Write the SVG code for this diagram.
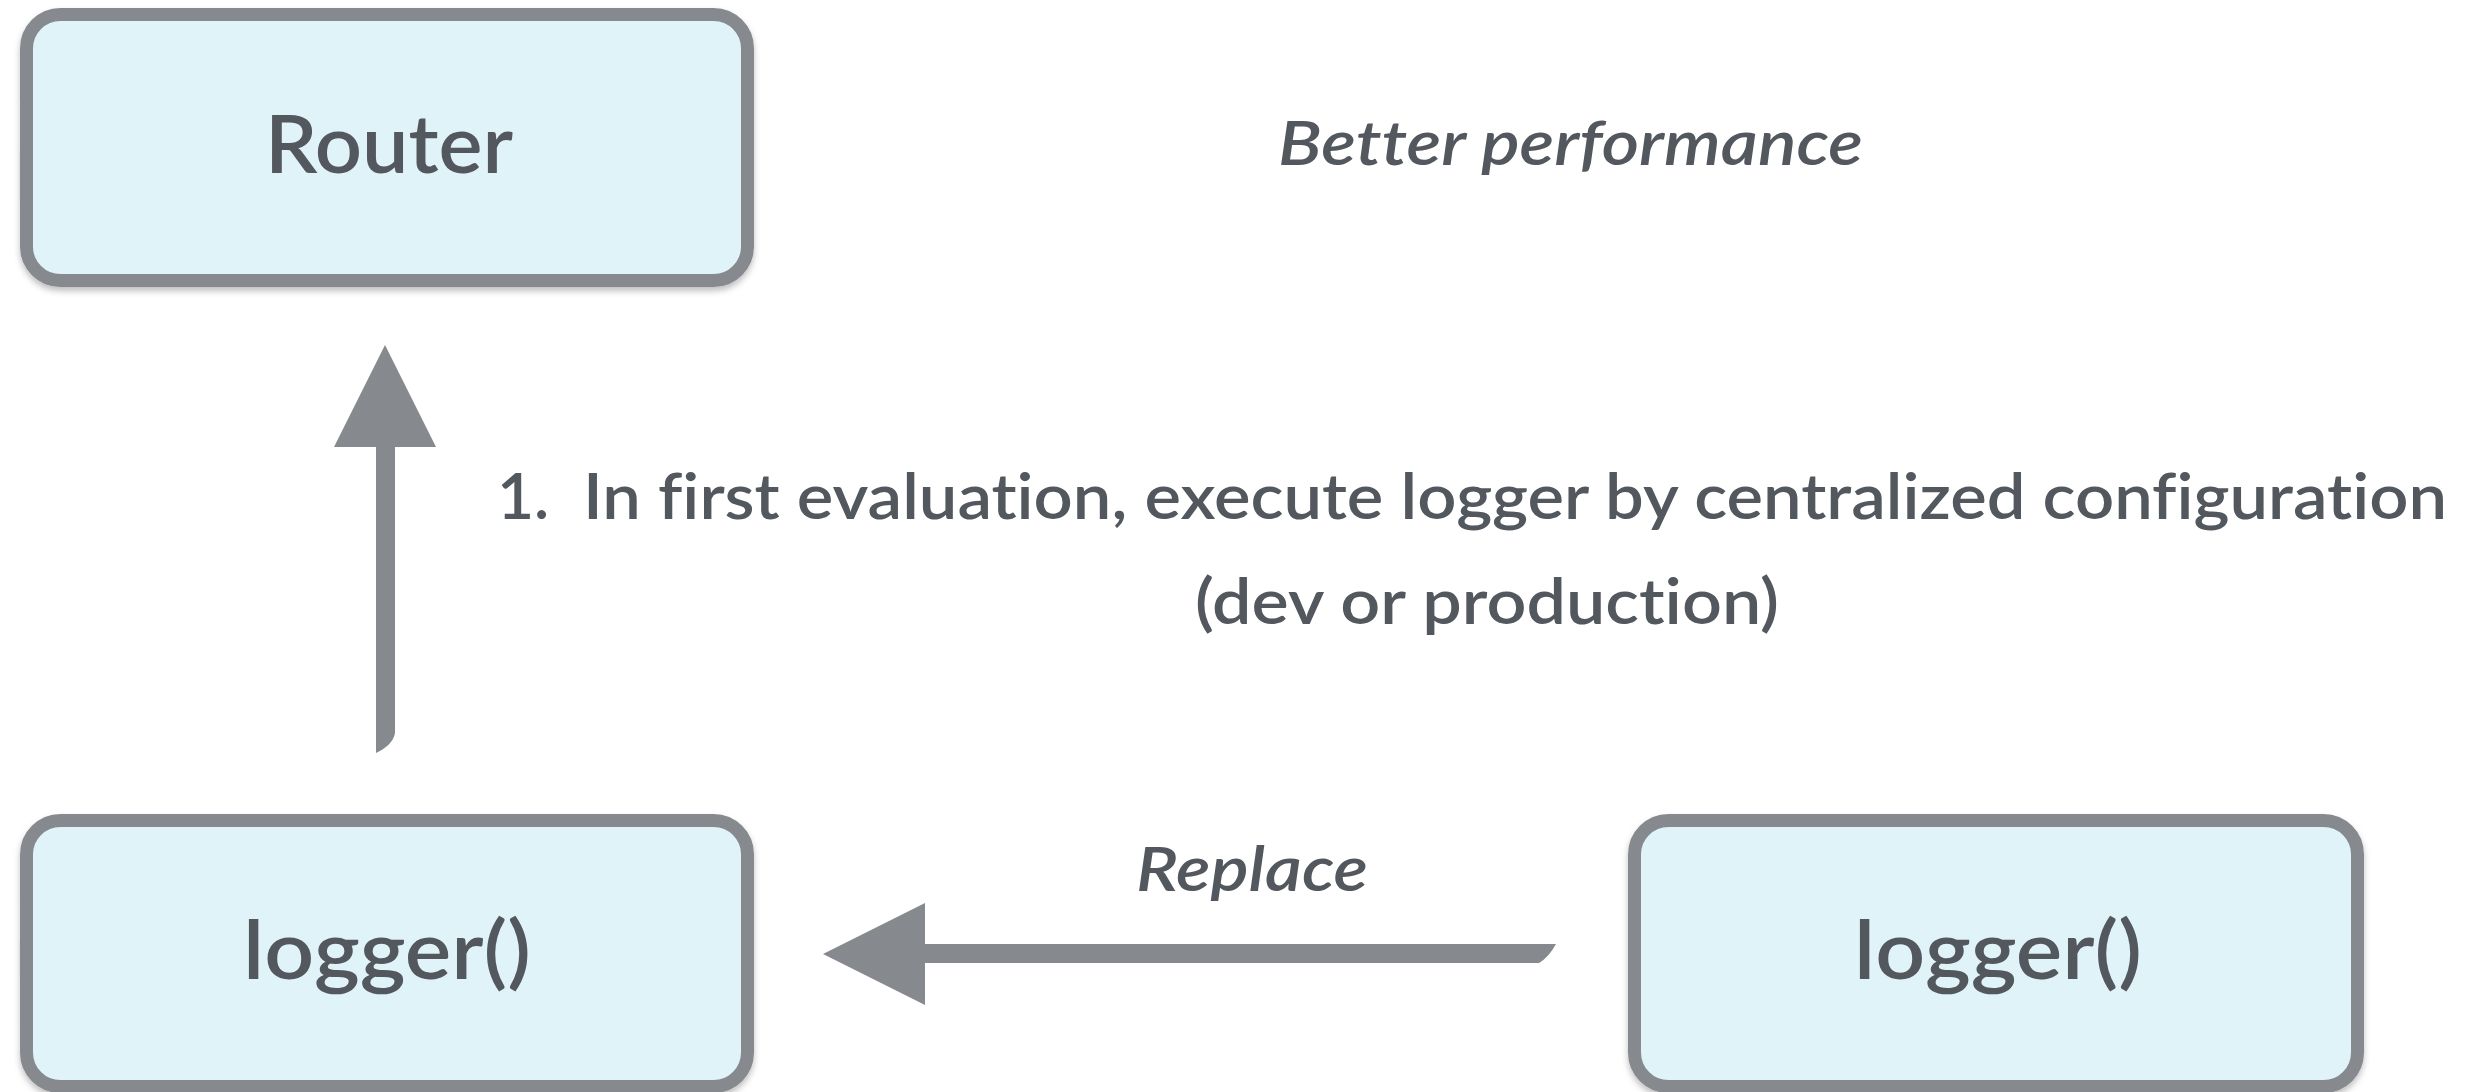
<svg xmlns="http://www.w3.org/2000/svg" width="2484" height="1092" viewBox="0 0 2484 1092">
<defs>
<filter id="sh" x="-5%" y="-5%" width="110%" height="115%">
<feDropShadow dx="0" dy="4" stdDeviation="3" flood-color="#000" flood-opacity="0.25"/>
</filter>
<style>
.box{fill:#e0f3f8;stroke:#86898e;stroke-width:13;filter:url(#sh)}
.t{font-family:Lato,"Noto Sans",sans-serif;font-weight:600;fill:#53575e;font-variant-ligatures:none;font-feature-settings:"liga" 0,"dlig" 0}
.big{font-size:80px}
.mid{font-size:64px}
.it{font-style:italic;font-size:62px}
.arrow{fill:#86898e}
</style>
</defs>
<rect width="2484" height="1092" fill="#ffffff"/>
<g id="router">
<rect class="box" x="26.5" y="14.5" width="721" height="266" rx="34"/>
<text class="t big" x="265" y="173" textLength="248" lengthAdjust="spacingAndGlyphs">Router</text>
</g>
<g id="logger-left">
<rect class="box" x="26.5" y="820.5" width="721" height="266" rx="34"/>
<text class="t big" x="243" y="979" textLength="288" lengthAdjust="spacingAndGlyphs">logger()</text>
</g>
<g id="logger-right">
<rect class="box" x="1634.5" y="820.5" width="723" height="266" rx="34"/>
<text class="t big" x="1854" y="979" textLength="288" lengthAdjust="spacingAndGlyphs">logger()</text>
</g>
<g id="connectors">
<path class="arrow" d="M385,345 L436,447 L395,447 L395,733 Q393,745 376,753 L376,447 L334,447 Z"/>
<path class="arrow" d="M823,954 L925,903 L925,944 L1556,944 Q1549,957 1539,963 L925,963 L925,1005 Z"/>
</g>
<g id="labels">
<text class="t it" x="1278" y="165" textLength="585" lengthAdjust="spacingAndGlyphs">Better performance</text>
<text class="t mid" x="497" y="519">1.</text>
<text class="t mid" x="583" y="519" textLength="1864" lengthAdjust="spacingAndGlyphs">In first evaluation, execute logger by centralized configuration</text>
<text class="t mid" x="1195" y="624" textLength="584" lengthAdjust="spacingAndGlyphs">(dev or production)</text>
<text class="t it" x="1136" y="891" textLength="232" lengthAdjust="spacingAndGlyphs">Replace</text>
</g>
</svg>
